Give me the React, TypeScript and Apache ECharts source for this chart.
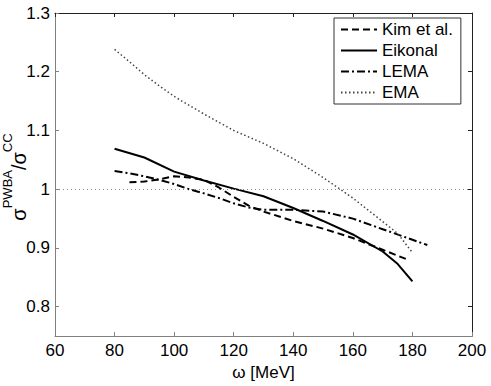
import React, { useEffect, useRef } from "react";
import * as echarts from "echarts";

const X_TICKS = [60, 80, 100, 120, 140, 160, 180, 200];
const Y_TICKS = [0.8, 0.9, 1, 1.1, 1.2, 1.3];
const REF_VALUE = 1;

const KIM_X = [85, 90, 95, 100, 105, 110, 115, 120, 125, 130, 140, 150, 160, 170, 178];
const KIM_Y = [1.012, 1.013, 1.017, 1.022, 1.020, 1.016, 1.003, 0.987, 0.972, 0.962, 0.946, 0.933, 0.917, 0.897, 0.881];

const EIK_X = [80, 90, 100, 110, 120, 130, 140, 150, 160, 170, 175, 180];
const EIK_Y = [1.069, 1.054, 1.030, 1.015, 1.001, 0.988, 0.968, 0.946, 0.923, 0.894, 0.873, 0.843];

const LEMA_X = [80, 85, 90, 95, 100, 105, 110, 115, 120, 125, 130, 140, 150, 160, 170, 180, 185];
const LEMA_Y = [1.031, 1.027, 1.022, 1.016, 1.009, 1.0, 0.993, 0.985, 0.976, 0.969, 0.965, 0.965, 0.962, 0.95, 0.932, 0.914, 0.905];

const EMA_X = [80, 85, 90, 95, 100, 110, 120, 130, 140, 150, 160, 170, 175, 180];
const EMA_Y = [1.238, 1.217, 1.195, 1.176, 1.158, 1.128, 1.1, 1.078, 1.052, 1.02, 0.985, 0.945, 0.925, 0.892];

const zip = (xs: number[], ys: number[]) => xs.map((x, i) => [x, ys[i]]);

const FONT = "'Liberation Sans', Arial, Helvetica, sans-serif";

export default function App() {
  const ref = useRef<HTMLDivElement>(null);
  useEffect(() => {
    if (!ref.current) return;
    const chart = echarts.init(ref.current, undefined, { renderer: "svg" });
    const gray = "#808080";
    const dark = "#222";
    const baseAxis = {
      type: "value" as const,
      splitLine: { show: false },
    };
    chart.setOption({
      animation: false,
      backgroundColor: "#fff",
      textStyle: { fontFamily: FONT },
      grid: { left: 55, right: 19, top: 13, bottom: 44, containLabel: false },
      xAxis: [
        {
          ...baseAxis,
          min: 60,
          max: 200,
          interval: 20,
          position: "bottom",
          name: "ω [MeV]",
          nameLocation: "middle",
          nameGap: 19,
          nameTextStyle: { fontSize: 17, color: "#000", fontFamily: FONT, verticalAlign: "top" },
          axisLine: { show: true, lineStyle: { color: gray, width: 1 } },
          axisTick: { show: true, inside: true, length: 4, lineStyle: { color: gray }, customValues: X_TICKS },
          axisLabel: { show: true, color: "#000", fontSize: 17, margin: 6, fontFamily: FONT, customValues: X_TICKS },
        },
        {
          ...baseAxis,
          min: 60,
          max: 200,
          interval: 20,
          position: "top",
          axisLine: { show: true, lineStyle: { color: dark, width: 1 } },
          axisTick: { show: true, inside: true, length: 4, lineStyle: { color: dark }, customValues: X_TICKS },
          axisLabel: { show: false },
        },
      ],
      yAxis: [
        {
          ...baseAxis,
          min: 0.75,
          max: 1.3,
          position: "left",
          axisLine: { show: true, lineStyle: { color: gray, width: 1 } },
          axisTick: { show: true, inside: true, length: 4, lineStyle: { color: gray }, customValues: Y_TICKS },
          axisLabel: { show: true, color: "#000", fontSize: 17, margin: 5, fontFamily: FONT, customValues: Y_TICKS },
        },
        {
          ...baseAxis,
          min: 0.75,
          max: 1.3,
          position: "right",
          axisLine: { show: true, lineStyle: { color: dark, width: 1 } },
          axisTick: { show: true, inside: true, length: 4, lineStyle: { color: dark }, customValues: Y_TICKS },
          axisLabel: { show: false },
        },
      ],
      graphic: [
        {
          type: "text",
          x: 15,
          y: 177,
          rotation: Math.PI / 2,
          style: {
            text: "{s|σ}{p|PWBA}{s|/σ}{p|CC}",
            align: "center",
            verticalAlign: "middle",
            fill: "#000",
            rich: {
              s: { fontSize: 20, fontFamily: FONT, verticalAlign: "bottom", lineHeight: 28, fill: "#000" },
              p: { fontSize: 13, fontFamily: FONT, verticalAlign: "top", lineHeight: 28, fill: "#000" },
            },
          },
        },
      ],
      legend: {
        orient: "vertical",
        left: 334,
        top: 18,
        padding: [3, 8, 3, 6],
        itemGap: 4,
        itemWidth: 36,
        itemHeight: 14,
        backgroundColor: "#fff",
        borderColor: "#333",
        borderWidth: 1,
        borderRadius: 0,
        itemStyle: { opacity: 0 },
        textStyle: { fontSize: 17, color: "#000", fontFamily: FONT, lineHeight: 17 },
        data: ["Kim et al.", "Eikonal", "LEMA", "EMA"],
      },
      series: [
        {
          name: "Kim et al.",
          type: "line",
          data: zip(KIM_X, KIM_Y),
          showSymbol: false,
          symbol: "none",
          lineStyle: { color: "#000", width: 2, type: [7, 4] },
          itemStyle: { color: "#000" },
          markLine: {
            silent: true,
            symbol: "none",
            label: { show: false },
            lineStyle: { color: "#888", width: 1, type: [1, 3] },
            data: [{ yAxis: REF_VALUE }],
          },
        },
        {
          name: "Eikonal",
          type: "line",
          data: zip(EIK_X, EIK_Y),
          showSymbol: false,
          symbol: "none",
          lineStyle: { color: "#000", width: 2, type: "solid" },
          itemStyle: { color: "#000" },
        },
        {
          name: "LEMA",
          type: "line",
          data: zip(LEMA_X, LEMA_Y),
          showSymbol: false,
          symbol: "none",
          lineStyle: { color: "#000", width: 2, type: [8, 3, 2, 3] },
          itemStyle: { color: "#000" },
        },
        {
          name: "EMA",
          type: "line",
          data: zip(EMA_X, EMA_Y),
          showSymbol: false,
          symbol: "none",
          lineStyle: { color: "#444", width: 1.5, type: [1.5, 2.5] },
          itemStyle: { color: "#444" },
        },
      ],
    });
    return () => chart.dispose();
  }, []);
  return <div ref={ref} style={{ width: 491, height: 386, position: "absolute", left: 0, top: 0 }} />;
}
